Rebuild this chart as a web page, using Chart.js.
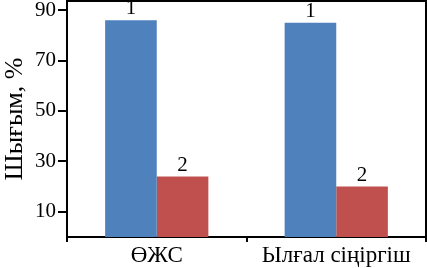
<!DOCTYPE html>
<html><head><meta charset="utf-8">
<script src="https://cdn.jsdelivr.net/npm/chart.js@4/dist/chart.umd.min.js"></script>
<style>html,body{margin:0;padding:0;background:#fff}#w{width:427px;height:268px}</style>
</head><body><div id="w"><canvas id="c"></canvas></div>
<script>
const categories = ['ӨЖС', 'Ылғал сіңіргіш'];
const series1 = [86, 85];
const series2 = [24, 20];
const seriesLabels = ['1', '2'];
const yTicks = [10, 30, 50, 70, 90];
const yTitle = 'Шығым, %';

const FONT = "'Liberation Serif', 'Times New Roman', serif";

const barLabels = {
  id: 'barLabels',
  afterDatasetsDraw(chart) {
    const ctx = chart.ctx;
    ctx.save();
    ctx.font = '21px ' + FONT;
    ctx.fillStyle = '#000';
    ctx.textAlign = 'center';
    ctx.textBaseline = 'bottom';
    chart.data.datasets.forEach((ds, i) => {
      chart.getDatasetMeta(i).data.forEach(bar => {
        ctx.fillText(seriesLabels[i], bar.x, bar.y - 1);
      });
    });
    ctx.restore();
  }
};
const frame = {
  id: 'frame',
  afterDraw(chart) {
    const a = chart.chartArea, ctx = chart.ctx;
    ctx.save();
    ctx.strokeStyle = '#000';
    ctx.lineWidth = 2;
    ctx.beginPath();
    ctx.moveTo(a.left, a.top);
    ctx.lineTo(a.right, a.top);
    ctx.lineTo(a.right, a.bottom);
    ctx.stroke();
    ctx.restore();
  }
};

new Chart(document.getElementById('c'), {
  type: 'bar',
  data: {
    labels: categories,
    datasets: [
      { data: series1, backgroundColor: '#4F81BD', categoryPercentage: 0.575, barPercentage: 1 },
      { data: series2, backgroundColor: '#C0504D', categoryPercentage: 0.575, barPercentage: 1 }
    ]
  },
  options: {
    responsive: true, maintainAspectRatio: false, animation: false,
    layout: { padding: { top: 1, right: 1, left: 0, bottom: 0 } },
    plugins: { legend: { display: false }, tooltip: { enabled: false } },
    scales: {
      x: {
        grid: { display: true, drawOnChartArea: false, drawTicks: true, tickLength: 5, color: '#000', lineWidth: 2, offset: true },
        border: { display: true, color: '#000', width: 2 },
        ticks: { color: '#000', font: { family: FONT, size: 23 }, padding: 0, maxRotation: 0 },
        afterFit(s) { s.height = 31; s.paddingLeft = 0; s.paddingRight = 0; }
      },
      y: {
        min: 0, max: 93.6,
        afterBuildTicks(s) { s.ticks = yTicks.map(v => ({ value: v })); },
        grid: { display: true, drawOnChartArea: false, drawTicks: true, tickLength: 9, color: '#000', lineWidth: 2 },
        border: { display: true, color: '#000', width: 2 },
        ticks: { color: '#000', font: { family: FONT, size: 21 }, padding: 2 },
        title: { display: true, text: yTitle, color: '#000', font: { family: FONT, size: 26 }, padding: 0 },
        afterFit(s) { s.width = 67; s.paddingTop = 0; s.paddingBottom = 0; }
      }
    }
  },
  plugins: [barLabels, frame]
});
</script></body></html>
